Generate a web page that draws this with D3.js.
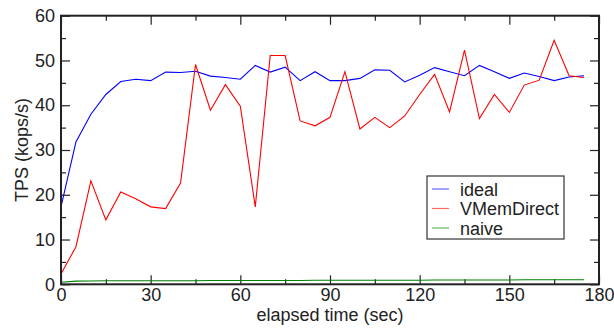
<!DOCTYPE html>
<html>
<head>
<meta charset="utf-8">
<script src="https://cdn.jsdelivr.net/npm/d3@7"></script>
<style>
  body { margin: 0; background: #fff; }
  text { font-family: "Liberation Sans", Arial, sans-serif; fill: #222; }
</style>
</head>
<body>
<div id="chart"></div>
<script>
// sample times (sec)
const times = d3.range(0, 180, 5)
const ideal = [17.3, 31.8, 38.0, 42.4, 45.3, 45.8, 45.5, 47.4, 47.3, 47.6,
               46.5, 46.2, 45.8, 48.9, 47.4, 48.5, 45.5, 47.5, 45.5, 45.5,
               46.0, 47.9, 47.8, 45.2, 46.7, 48.4, 47.5, 46.6, 48.9, 47.5,
               46.0, 47.2, 46.4, 45.5, 46.3, 46.6]
const vmemDirect = [2.3, 8.4, 23.1, 14.4, 20.6, 19.1, 17.3, 16.9, 22.6, 49.1,
                    38.9, 44.6, 39.8, 17.3, 51.1, 51.1, 36.5, 35.4, 37.3, 47.5,
                    34.7, 37.3, 35.0, 37.6, 42.4, 46.9, 38.5, 52.3, 37.0, 42.4,
                    38.4, 44.5, 45.6, 54.5, 46.6, 46.2]
const naive = [0.45, 0.7, 0.75, 0.8, 0.8, 0.8, 0.8, 0.8, 0.8, 0.8,
               0.85, 0.85, 0.85, 0.85, 0.85, 0.85, 0.85, 0.9, 0.9, 0.9,
               0.9, 0.9, 0.9, 0.9, 0.9, 0.95, 0.95, 0.95, 0.95, 0.95,
               0.95, 1.0, 1.0, 1.0, 1.0, 1.0]
const seriesNames = ["ideal", "VMemDirect", "naive"]
const seriesColors = ["#0000ff", "#ff0000", "#008000"]
const xMajor = [0, 30, 60, 90, 120, 150, 180]
const yMajor = [0, 10, 20, 30, 40, 50, 60]

const width = 614
const height = 329
const margin = {left: 61, right: 15, top: 15.7, bottom: 44.7}
const fontSize = 18

let svg = d3.select("#chart")
            .append("svg")
            .attr("width", width)
            .attr("height", height)

let xScale = d3.scaleLinear()
               .domain([0, 180])
               .range([margin.left, width - margin.right])
let yScale = d3.scaleLinear()
               .domain([0, 60])
               .range([height - margin.bottom, margin.top])

const x0 = margin.left, x1 = width - margin.right
const y0 = height - margin.bottom, y1 = margin.top
let xMinor = xMajor.slice(0, -1).map(v => v + 15)
let yMinor = yMajor.slice(0, -1).map(v => v + 5)

//Axes, ticks point inward
function addAxis(axis, tx, ty, labels) {
  let g = svg.append("g")
     .attr("transform", "translate(" + tx + "," + ty + ")")
     .call(axis)
  g.select(".domain").remove()
  g.selectAll("line").attr("stroke", "#222").attr("stroke-width", 1.2)
  g.selectAll("text").attr("font-size", fontSize).style("fill", "#222")
  if (!labels) g.selectAll("text").remove()
  return g
}

addAxis(d3.axisBottom(xScale).tickValues(xMajor).tickSize(-9).tickPadding(4).tickFormat(d3.format("d")), 0, y0, true)
addAxis(d3.axisBottom(xScale).tickValues(xMinor).tickSize(-5), 0, y0, false)
addAxis(d3.axisTop(xScale).tickValues(xMajor).tickSize(-9), 0, y1, false)
addAxis(d3.axisTop(xScale).tickValues(xMinor).tickSize(-5), 0, y1, false)
addAxis(d3.axisLeft(yScale).tickValues(yMajor).tickSize(-9).tickPadding(6).tickFormat(d3.format("d")), x0, 0, true)
addAxis(d3.axisLeft(yScale).tickValues(yMinor).tickSize(-5), x0, 0, false)
addAxis(d3.axisRight(yScale).tickValues(yMajor).tickSize(-9), x1, 0, false)
addAxis(d3.axisRight(yScale).tickValues(yMinor).tickSize(-5), x1, 0, false)

// lines
let allSeries = [ideal, vmemDirect, naive]
let line = d3.line()
             .x((d, i) => xScale(times[i]))
             .y(d => yScale(d))

svg.selectAll(".series")
   .data([naive, ideal, vmemDirect])
   .enter().append("path")
   .attr("class", "series")
   .attr("fill", "none")
   .attr("stroke", d => seriesColors[allSeries.indexOf(d)])
   .attr("stroke-width", 1.1)
   .attr("d", line)

// frame
svg.append("rect")
   .attr("x", x0)
   .attr("y", y1)
   .attr("width", x1 - x0)
   .attr("height", y0 - y1)
   .attr("fill", "none")
   .attr("stroke", "#222")
   .attr("stroke-width", 2)

// axis titles
svg.append("text")
   .attr("x", (x0 + x1) / 2)
   .attr("y", 321)
   .attr("text-anchor", "middle")
   .attr("font-size", fontSize)
   .text("elapsed time (sec)")

svg.append("text")
   .attr("transform", "translate(28," + ((y0 + y1) / 2) + ") rotate(-90)")
   .attr("text-anchor", "middle")
   .attr("font-size", fontSize)
   .text("TPS (kops/s)")

// legend
let legend = svg.append("g")
                .attr("transform", "translate(427,176)")
legend.append("rect")
      .attr("width", 137)
      .attr("height", 63)
      .attr("fill", "#fff")
      .attr("stroke", "#333")
      .attr("stroke-width", 1.2)
let items = legend.selectAll(".legend")
                  .data(seriesNames)
                  .enter().append("g")
                  .attr("class", "legend")
                  .attr("transform", (d, i) => "translate(0," + (13 + i * 19.5) + ")")
items.append("line")
     .attr("x1", 5)
     .attr("x2", 22)
     .attr("stroke", (d, i) => seriesColors[i])
     .attr("stroke-opacity", 0.6)
     .attr("stroke-width", 1.2)
items.append("text")
     .attr("x", 33)
     .attr("y", 6.5)
     .attr("font-size", fontSize)
     .text(d => d)
</script>
</body>
</html>
